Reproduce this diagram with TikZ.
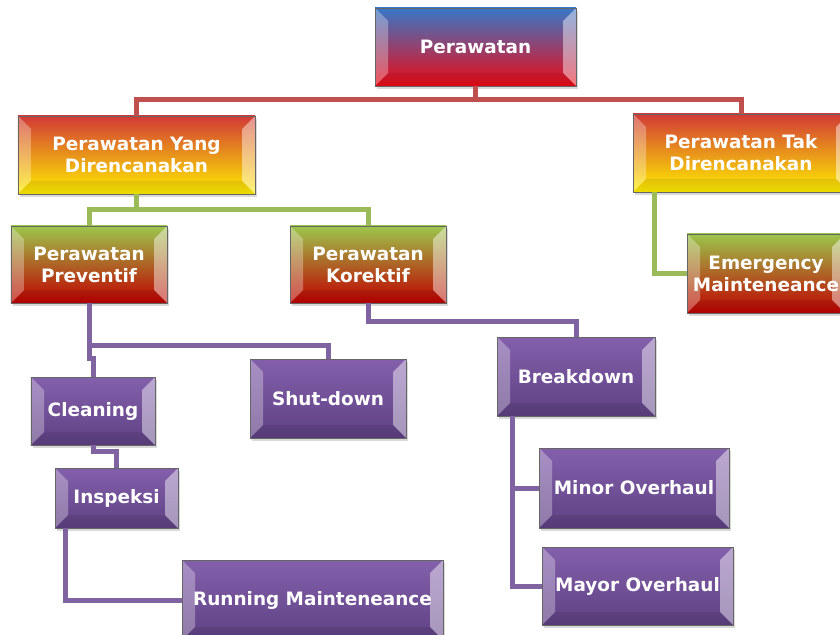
\documentclass[tikz,border=0pt]{standalone}
\usepackage{fontspec}
\setmainfont{DejaVu Sans}
\usetikzlibrary{shadows}

\definecolor{lnred}{HTML}{C0504D}
\definecolor{lngreen}{HTML}{9BBB59}
\definecolor{lnpurple}{HTML}{8064A2}
\definecolor{topblue}{HTML}{3878C8}
\definecolor{botred}{HTML}{EE0A14}
\definecolor{planred}{HTML}{D23A36}
\definecolor{planyellow}{HTML}{FFEF00}
\definecolor{typegreen}{HTML}{9CC64B}
\definecolor{typered}{HTML}{C00000}
\definecolor{tasktop}{HTML}{8460AC}
\definecolor{taskbot}{HTML}{5E4183}

\tikzset{
  box/.style={rectangle, inner sep=0pt, draw=black!60, line width=0.6bp,
    text=white, align=center, font=\fontsize{18.5}{22}\selectfont\bfseries,
    drop shadow={opacity=.3, shadow xshift=2bp, shadow yshift=-3bp},
    path picture={
      \fill[white, opacity=.3] (path picture bounding box.north west) -- ++(13bp,-13bp)
        -- ([xshift=13bp, yshift=13bp]path picture bounding box.south west)
        -- (path picture bounding box.south west) -- cycle;
      \fill[white, opacity=.45] (path picture bounding box.north east) -- ++(-13bp,-13bp)
        -- ([xshift=-13bp, yshift=13bp]path picture bounding box.south east)
        -- (path picture bounding box.south east) -- cycle;
      \fill[black, opacity=.08] (path picture bounding box.south west)
        -- ([xshift=13bp, yshift=13bp]path picture bounding box.south west)
        -- ([xshift=-13bp, yshift=13bp]path picture bounding box.south east)
        -- (path picture bounding box.south east) -- cycle;
    }},
  topbox/.style={box, top color=topblue, bottom color=botred},
  planbox/.style={box, top color=planred, bottom color=planyellow},
  typebox/.style={box, top color=typegreen, bottom color=typered},
  taskbox/.style={box, top color=tasktop, bottom color=taskbot},
  redline/.style={draw=lnred, line width=5bp},
  greenline/.style={draw=lngreen, line width=5bp},
  purpleline/.style={draw=lnpurple, line width=5bp},
}

\begin{document}
\begin{tikzpicture}[x=1bp, y=-1bp]
\useasboundingbox (0,0) rectangle (840,635);

\node[topbox, minimum width=201bp, minimum height=78bp] (per) at (475.5,47) {Perawatan};

\node[planbox, minimum width=237bp, minimum height=78bp] (yang) at (136.5,155) {Perawatan Yang\\Direncanakan};
\node[planbox, minimum width=216bp, minimum height=78bp] (tak) at (741,153) {Perawatan Tak\\Direncanakan};

\node[typebox, minimum width=156bp, minimum height=77bp] (prev) at (89,264.5) {Perawatan\\Preventif};
\node[typebox, minimum width=156bp, minimum height=77bp] (kor) at (368,264.5) {Perawatan\\Korektif};
\node[typebox, minimum width=158bp, minimum height=79bp] (emg) at (766,273.5) {Emergency\\Mainteneance};

\node[taskbox, minimum width=124bp, minimum height=68bp] (clean) at (93,411) {Cleaning};
\node[taskbox, minimum width=156bp, minimum height=79bp] (shut) at (328,398.5) {Shut-down};
\node[taskbox, minimum width=123bp, minimum height=60bp] (insp) at (116.5,498) {Inspeksi};
\node[taskbox, minimum width=261bp, minimum height=80bp] (run) at (312.5,600) {Running Mainteneance};

\node[taskbox, minimum width=158bp, minimum height=79bp] (brk) at (576,376.5) {Breakdown};
\node[taskbox, minimum width=190bp, minimum height=80bp] (minor) at (634,488) {Minor Overhaul};
\node[taskbox, minimum width=191bp, minimum height=78bp] (mayor) at (637.5,586) {Mayor Overhaul};

% level 1
\draw[redline] (per.south) -- ++(0,13) -| (yang.north);
\draw[redline] (per.south) -- ++(0,13) -| (tak.north);

% level 2
\draw[greenline] (yang.south) -- ++(0,15) -| (prev.north);
\draw[greenline] (yang.south) -- ++(0,15) -| (kor.north);
\draw[greenline] ([xshift=22bp]tak.south west) |- (emg.west);

% level 3
\draw[purpleline] (prev.south) -- ++(0,42) -| (shut.north);
\draw[purpleline] (prev.south) -- ++(0,55) -| (clean.north);
\draw[purpleline] (clean.south) -- ++(0,6) -| (insp.north);
\draw[purpleline] ([xshift=11bp]insp.south west) |- (run.west);

\draw[purpleline] (kor.south) -- ++(0,18) -| (brk.north);
\draw[purpleline] ([xshift=16bp]brk.south west) |- (minor.west);
\draw[purpleline] ([xshift=16bp]brk.south west) |- (mayor.west);

\end{tikzpicture}
\end{document}
